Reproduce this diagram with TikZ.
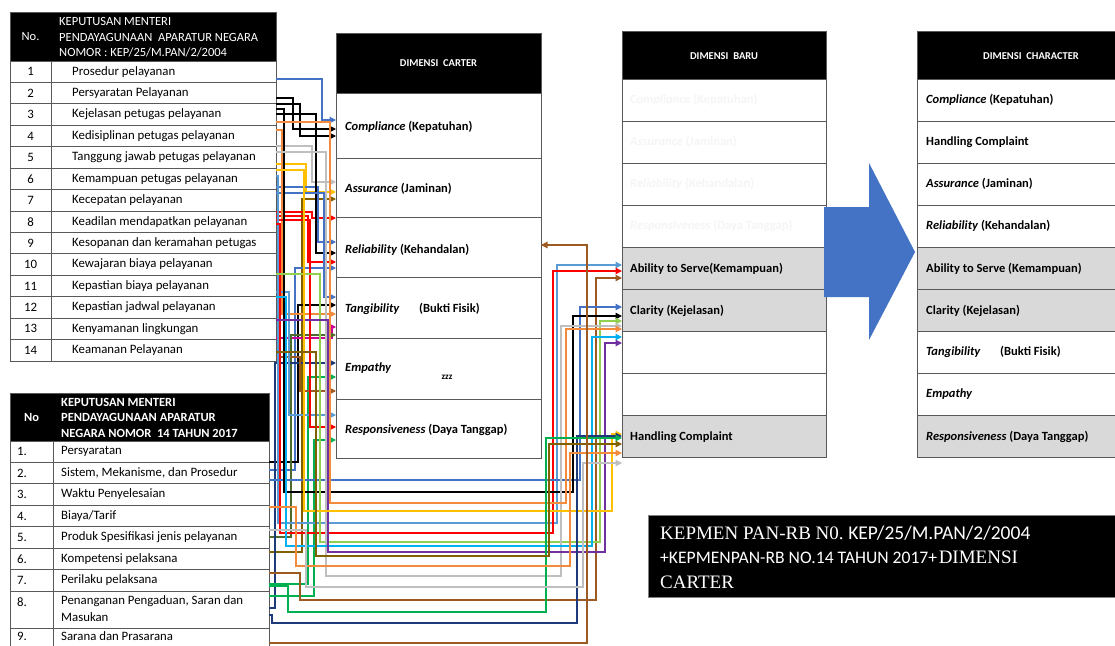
\documentclass[tikz,border=0pt]{standalone}
\usepackage{fontspec}
\setmainfont{Carlito}
\newfontfamily\tnr{Liberation Serif}
\usetikzlibrary{arrows.meta}
\definecolor{cblue}{HTML}{4472C4}
\definecolor{clblue}{HTML}{5B9BD5}
\definecolor{ccyan}{HTML}{00B0F0}
\definecolor{cred}{HTML}{FF0000}
\definecolor{corange}{HTML}{F28C3C}
\definecolor{clgray}{HTML}{BFBFBF}
\definecolor{cyellow}{HTML}{FFC000}
\definecolor{colive}{HTML}{806000}
\definecolor{cbrown}{HTML}{9C5A22}
\definecolor{cgreen}{HTML}{00B050}
\definecolor{clgreen}{HTML}{92D050}
\definecolor{cpurple}{HTML}{7030A0}
\definecolor{cmagenta}{HTML}{CC0099}
\definecolor{cdkgreen}{HTML}{4E6B2E}
\definecolor{cnavy}{HTML}{1F3A7A}
\definecolor{cellgray}{HTML}{D9D9D9}
\newcommand\wc[6]{\draw[wire,#1] (#2.east |- 0,#3) -| (#4,#6) -- (#5.west |- 0,#6);}
\newcommand\wb[8]{\draw[wire,#1] (#2.east |- 0,#3) -| (#4,#5) -| (#6,#8) -- (#7.west |- 0,#8);}
\begin{document}
\begin{tikzpicture}[x=1pt,y=-1pt,
  cellbox/.style={draw=black!65,line width=0.9pt,anchor=north west,inner sep=0,outer sep=0},
  blackbox/.style={cellbox,fill=black},
  graybox/.style={cellbox,fill=cellgray},
  txt/.style={inner sep=0,anchor=west,font=\fontsize{12.8}{15}\selectfont},
  btxt/.style={inner sep=0,anchor=west,font=\bfseries\fontsize{12.5}{15}\selectfont},
  ftxt/.style={btxt,text=black!4},
  htxt/.style={inner sep=0,text=white,font=\bfseries\fontsize{10.5}{13}\selectfont},
  wire/.style={line width=1.2pt,-{Triangle[length=6.5pt,width=6.5pt]}}]
\useasboundingbox (0,0) rectangle (1115,645);
\clip (0,0) rectangle (1115,645);
\fill[white] (0,0) rectangle (1115,645);

% ---------- table 1 ----------
\node[blackbox,minimum width=266,minimum height=49] (t1h) at (10,12) {};
\node[inner sep=0,text=white,font=\fontsize{12.5}{15.5}\selectfont] (t1hno) at (30.5,37) {No.};
\node[inner sep=0,text=white,anchor=west,align=left,font=\fontsize{12.5}{15.5}\selectfont] (t1ht) at (59,37.5)
  {KEPUTUSAN MENTERI\\PENDAYAGUNAAN\ \ APARATUR NEGARA\\NOMOR : KEP/25/M.PAN/2/2004};
\foreach \i/\t in {1/{Prosedur pelayanan},2/{Persyaratan Pelayanan},3/{Kejelasan petugas pelayanan},
  4/{Kedisiplinan petugas pelayanan},5/{Tanggung jawab petugas pelayanan},6/{Kemampuan petugas pelayanan},
  7/{Kecepatan pelayanan},8/{Keadilan mendapatkan pelayanan},9/{Kesopanan dan keramahan petugas},
  10/{Kewajaran biaya pelayanan},11/{Kepastian biaya pelayanan},12/{Kepastian jadwal pelayanan},
  13/{Kenyamanan lingkungan},14/{Keamanan Pelayanan}}{
  \pgfmathsetmacro\yy{61+(\i-1)*21.43}
  \node[cellbox,minimum width=41,minimum height=21.43] (t1n\i) at (10,\yy) {};
  \node[cellbox,minimum width=225,minimum height=21.43] (t1r\i) at (51,\yy) {};
  \node[txt,anchor=center] (t1nt\i) at (t1n\i.center) {\i};
  \node[txt] (t1rt\i) at ([xshift=21pt]t1r\i.west) {\t};
}

% ---------- table 2 ----------
\node[blackbox,minimum width=259,minimum height=48] (t2h) at (10,393) {};
\node[inner sep=0,text=white,font=\bfseries\fontsize{12.5}{15.5}\selectfont] (t2hno) at (31.5,417) {No};
\node[inner sep=0,text=white,anchor=west,align=left,font=\bfseries\fontsize{12.5}{15.5}\selectfont] (t2ht) at (61,417.5)
  {KEPUTUSAN MENTERI\\PENDAYAGUNAAN APARATUR\\NEGARA NOMOR\ \ 14 TAHUN 2017};
\foreach \i/\t in {1/{Persyaratan},2/{Sistem, Mekanisme, dan Prosedur},3/{Waktu Penyelesaian},
  4/{Biaya/Tarif},5/{Produk Spesifikasi jenis pelayanan},6/{Kompetensi pelaksana},7/{Perilaku pelaksana}}{
  \pgfmathsetmacro\yy{441+(\i-1)*21.43}
  \node[cellbox,minimum width=43,minimum height=21.43] (t2n\i) at (10,\yy) {};
  \node[cellbox,minimum width=216,minimum height=21.43] (t2r\i) at (53,\yy) {};
  \node[txt] (t2nt\i) at ([xshift=7pt]t2n\i.west) {\i.};
  \node[txt] (t2rt\i) at ([xshift=8pt]t2r\i.west) {\t};
}
\node[cellbox,minimum width=43,minimum height=37] (t2n8) at (10,591) {};
\node[cellbox,minimum width=216,minimum height=37] (t2r8) at (53,591) {};
\node[txt] (t2nt8) at (17,602) {8.};
\node[txt,anchor=north west,align=left,font=\fontsize{12.8}{17}\selectfont] (t2rt8) at (61,595)
  {Penanganan Pengaduan, Saran dan\\Masukan};
\node[cellbox,minimum width=43,minimum height=32] (t2n9) at (10,628) {};
\node[cellbox,minimum width=216,minimum height=32] (t2r9) at (53,628) {};
\node[txt] (t2nt9) at (17,636.5) {9.};
\node[txt] (t2rt9) at (61,636.5) {Sarana dan Prasarana};

% ---------- Dimensi Carter ----------
\node[blackbox,minimum width=205,minimum height=60] (c0) at (336,33) {};
\node[htxt] (c0t) at (438.5,63) {DIMENSI\ \ CARTER};
\node[cellbox,minimum width=205,minimum height=65] (c1) at (336,93) {};
\node[cellbox,minimum width=205,minimum height=59] (c2) at (336,158) {};
\node[cellbox,minimum width=205,minimum height=60] (c3) at (336,217) {};
\node[cellbox,minimum width=205,minimum height=61] (c4) at (336,277) {};
\node[cellbox,minimum width=205,minimum height=61] (c5) at (336,338) {};
\node[cellbox,minimum width=205,minimum height=59] (c6) at (336,399) {};
\node[btxt] (c1t) at (345,127) {\textit{Compliance} (Kepatuhan)};
\node[btxt] (c2t) at (345,189) {\textit{Assurance} (Jaminan)};
\node[btxt] (c3t) at (345,250) {\textit{Reliability} (Kehandalan)};
\node[btxt] (c4t) at (345,309) {\textit{Tangibility}};
\node[btxt] (c4u) at (419,309) {(Bukti Fisik)};
\node[btxt] (c5t) at (345,368) {\textit{Empathy}};
\node[inner sep=0,font=\bfseries\fontsize{9}{11}\selectfont] (c5z) at (447,377) {zzz};
\node[btxt] (c6t) at (345,430) {\textit{Responsiveness} (Daya Tanggap)};

% ---------- Dimensi Baru ----------
\node[blackbox,minimum width=204,minimum height=48] (b0) at (622,31) {};
\node[htxt] (b0t) at (724,56) {DIMENSI\ \ BARU};
\foreach \i in {1,2,3,4,7,8}{
  \node[cellbox,minimum width=204,minimum height=42] (b\i) at (622,{79+(\i-1)*42}) {};
}
\foreach \i in {5,6,9}{
  \node[graybox,minimum width=204,minimum height=42] (b\i) at (622,{79+(\i-1)*42}) {};
}
\node[ftxt] (b1t) at (630,100) {\textit{Compliance} (Kepatuhan)};
\node[ftxt] (b2t) at (630,142) {\textit{Assurance} (Jaminan)};
\node[ftxt] (b3t) at (630,184) {\textit{Reliability} (Kehandalan)};
\node[ftxt] (b4t) at (630,226) {\textit{Responsiveness} (Daya Tanggap)};
\node[btxt] (b5t) at (630,269) {Ability to Serve(Kemampuan)};
\node[btxt] (b6t) at (630,311) {Clarity (Kejelasan)};
\node[btxt] (b9t) at (630,437) {Handling Complaint};

% ---------- Dimensi Character ----------
\node[blackbox,minimum width=228,minimum height=48] (h0) at (917,31) {};
\node[htxt] (h0t) at (1031,56) {DIMENSI\ \ CHARACTER};
\foreach \i in {1,2,3,4,7,8}{
  \node[cellbox,minimum width=228,minimum height=42] (h\i) at (917,{79+(\i-1)*42}) {};
}
\foreach \i in {5,6,9}{
  \node[graybox,minimum width=228,minimum height=42] (h\i) at (917,{79+(\i-1)*42}) {};
}
\node[btxt] (h1t) at (926,100) {\textit{Compliance} (Kepatuhan)};
\node[btxt] (h2t) at (926,142) {Handling Complaint};
\node[btxt] (h3t) at (926,184) {\textit{Assurance} (Jaminan)};
\node[btxt] (h4t) at (926,226) {\textit{Reliability} (Kehandalan)};
\node[btxt] (h5t) at (926,269) {Ability to Serve (Kemampuan)};
\node[btxt] (h6t) at (926,311) {Clarity (Kejelasan)};
\node[btxt] (h7t) at (926,352) {\textit{Tangibility}};
\node[btxt] (h7u) at (1000,352) {(Bukti Fisik)};
\node[btxt] (h8t) at (926,394) {\textit{Empathy}};
\node[btxt] (h9t) at (926,437) {\textit{Responsiveness} (Daya Tanggap)};

% ---------- connectors to Dimensi Carter ----------
\wc{cblue}{t1r1}{79}{322}{c1}{120}
\wc{black}{t1r2}{98}{293}{c1}{129}
\wc{black}{t1r3}{104}{300}{c1}{136}
\wc{clgray}{t1r5}{146}{312}{c2}{182}
\wc{cyellow}{t1r5}{164}{306}{c2}{192}
\wc{colive}{t2r6}{552}{302}{c2}{199}
\wc{cred}{t1r8}{212}{312}{c3}{218}
\wc{cblue}{t1r7}{187}{318}{c3}{242}
\wc{black}{t1r3}{114}{316}{c3}{253}
\wc{cred}{t1r8}{216}{308}{c3}{262}
\wc{cblue}{t2r2}{470}{295}{c3}{268}
\wc{cblue}{t1r7}{193}{324}{c4}{297}
\wc{black}{t2r1}{462}{298}{c4}{305}
\wc{corange}{t1r4}{130}{282}{c4}{314}
\wc{cmagenta}{t1r13}{338}{332}{c4}{327}
\wc{cdkgreen}{t2r5}{537}{291}{c4}{335}
\wc{cnavy}{t2r8}{608}{275}{c5}{363}
\wc{cgreen}{t2r7}{584}{308}{c5}{377}
\wc{cbrown}{t1r14}{357}{300}{c5}{391}
\wc{clblue}{t1r11}{292}{289}{c6}{415}
\wc{cred}{t1r8}{220}{310}{c6}{427}
\wc{cgreen}{t2r8}{596}{314}{c6}{440}

% ---------- connectors to Dimensi Baru ----------
\wb{clblue}{t1r6}{176}{278}{523}{557}{b5}{265}
\wb{cred}{t1r8}{224}{280}{533}{553}{b5}{271}
\wb{cbrown}{t2r7}{573}{300}{600}{596}{b5}{278}
\wb{cblue}{t2r2}{480}{300}{480}{580}{b6}{307}
\wb{black}{t1r3}{109}{284}{492}{573}{b6}{316}
\wb{clgreen}{t1r10}{274}{320}{542}{600}{b6}{321}
\wb{clgray}{t1r5}{152}{326}{576}{561}{b6}{326}
\wb{corange}{t1r3}{122}{330}{503}{566}{b6}{329}
\wb{ccyan}{t1r11}{297}{286}{546}{592}{b7}{337}
\wb{cpurple}{t1r13}{320}{328}{552}{605}{b7}{343}
\wb{cyellow}{t1r6}{170}{304}{511}{612}{b9}{434}
\wb{cnavy}{t2r8}{615}{272}{623}{577}{b9}{436}
\wb{cgreen}{t2r7}{586}{288}{612}{546}{b9}{438}
\wb{colive}{t1r14}{352}{316}{556}{549}{b9}{444}
\wb{corange}{t2r4}{507}{296}{566}{570}{b9}{453}
\wb{clgray}{t2r5}{530}{306}{587}{583}{b9}{463}
\draw[wire,cbrown] (t2r9.east |- 0,643) -| (587,245) -- (c3.east |- 0,245);

% ---------- big arrow ----------
\fill[cblue] (824,207) -- (869,207) -- (869,163) -- (915,252) -- (869,340) -- (869,297) -- (824,297) -- cycle;

% ---------- note box ----------
\node[blackbox,draw=black!50,minimum width=480,minimum height=82] (note) at (648,515) {};
\node[inner sep=0,anchor=base west,text=white] (n1) at (660,539)
  {{\tnr\fontsize{19}{22}\selectfont KEPMEN PAN-RB N0.}\ \ {\fontsize{19.5}{22}\selectfont KEP/25/M.PAN/2/2004}};
\node[inner sep=0,anchor=base west,text=white] (n2) at (660,563)
  {{\fontsize{17.6}{22}\selectfont +KEPMENPAN-RB NO.14 TAHUN 2017+}\,{\tnr\fontsize{19}{22}\selectfont DIMENSI}};
\node[inner sep=0,anchor=base west,text=white] (n3) at (660,588)
  {{\tnr\fontsize{19}{22}\selectfont CARTER}};
\end{tikzpicture}
\end{document}
